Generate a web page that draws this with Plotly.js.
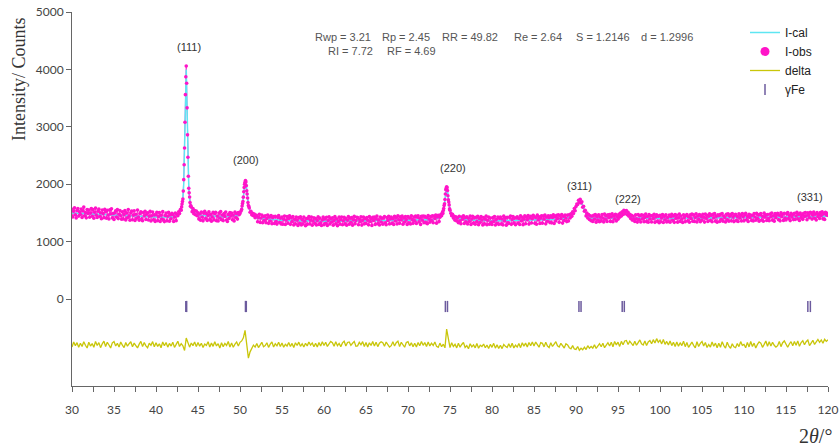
<!DOCTYPE html>
<html>
<head>
<meta charset="utf-8">
<script src="https://cdn.plot.ly/plotly-3.0.1.min.js"></script>
<style>html,body{margin:0;padding:0;background:#fff;}#chart{width:839px;height:447px;}</style>
</head>
<body>
<div id="chart"></div>
<script>
// 2theta scan grid (instrument settings)
const obsStart = 30, obsStep = 0.1;
const deltaStart = 30, deltaStep = 0.2;

// Observed intensity (I-obs), one row per degree (x.0 .. x.9)
const obsY = [
1562,1431,1528,1590,1467,1412,1541,1578,1445,1519,
1472,1568,1420,1537,1601,1451,1508,1414,1559,1488,
1548,1425,1497,1576,1443,1557,1408,1512,1583,1461,
1421,1529,1566,1440,1503,1399,1552,1487,1418,1561,
1524,1409,1545,1462,1395,1553,1481,1572,1413,1490,
1386,1501,1538,1427,1560,1401,1476,1543,1452,1389,
1519,1396,1470,1541,1378,1502,1417,1560,1448,1372,
1503,1531,1382,1461,1537,1370,1478,1405,1552,1430,
1372,1489,1521,1398,1363,1508,1447,1530,1385,1476,
1502,1376,1441,1527,1359,1452,1514,1381,1466,1352,
1468,1512,1365,1439,1506,1351,1461,1393,1522,1374,
1349,1456,1498,1362,1441,1509,1355,1470,1398,1492,
1473,1352,1431,1497,1365,1478,1452,1521,1488,1560,
1548,1655,1742,2080,2630,3560,4060,3330,2470,1930,
1778,1618,1601,1522,1576,1487,1540,1468,1532,1451,
1502,1396,1480,1373,1515,1428,1362,1493,1529,1401,
1488,1370,1455,1521,1384,1474,1356,1430,1509,1379,
1491,1512,1364,1447,1358,1497,1411,1523,1380,1462,
1366,1490,1438,1517,1377,1350,1471,1402,1508,1445,
1498,1381,1462,1361,1513,1420,1487,1392,1505,1470,
1492,1528,1561,1662,1775,1945,2035,2040,1885,1760,
1628,1585,1512,1530,1466,1495,1452,1480,1418,1463,
1450,1346,1419,1478,1335,1412,1462,1329,1437,1371,
1449,1330,1402,1463,1318,1431,1360,1455,1312,1418,
1437,1317,1440,1351,1305,1422,1456,1333,1410,1308,
1428,1303,1391,1445,1297,1375,1436,1319,1404,1450,
1301,1419,1350,1437,1291,1388,1312,1430,1372,1282,
1418,1315,1431,1289,1384,1306,1427,1355,1278,1401,
1297,1405,1437,1310,1372,1426,1286,1361,1415,1318,
1402,1289,1366,1431,1299,1410,1327,1280,1378,1428,
1295,1397,1321,1425,1283,1366,1432,1308,1404,1340,
1416,1286,1369,1436,1312,1399,1277,1352,1427,1303,
1380,1430,1294,1364,1422,1309,1401,1285,1373,1437,
1302,1410,1336,1421,1287,1379,1440,1313,1366,1425,
1419,1295,1390,1345,1432,1288,1371,1428,1310,1402,
1316,1418,1372,1292,1436,1350,1401,1283,1423,1367,
1430,1300,1395,1445,1313,1378,1290,1426,1342,1409,
1304,1411,1438,1327,1296,1420,1370,1442,1309,1396,
1426,1315,1400,1298,1440,1360,1421,1307,1449,1381,
1318,1431,1378,1446,1303,1414,1340,1437,1385,1299,
1437,1322,1412,1306,1449,1383,1318,1428,1361,1444,
1315,1427,1452,1344,1408,1300,1439,1372,1447,1329,
1442,1331,1420,1312,1455,1392,1338,1436,1368,1451,
1330,1447,1401,1461,1322,1430,1458,1349,1426,1470,
1452,1510,1540,1628,1735,1905,1955,1890,1730,1640,
1548,1496,1452,1478,1410,1440,1372,1431,1358,1417,
1330,1441,1362,1311,1430,1389,1452,1317,1418,1346,
1433,1306,1408,1351,1447,1299,1392,1440,1323,1418,
1303,1425,1348,1442,1296,1401,1332,1437,1377,1290,
1421,1309,1390,1446,1294,1372,1430,1302,1412,1341,
1297,1418,1350,1438,1289,1384,1317,1429,1301,1405,
1430,1305,1395,1292,1444,1360,1413,1287,1425,1326,
1318,1422,1447,1301,1386,1436,1323,1410,1295,1416,
1434,1320,1403,1299,1450,1362,1425,1296,1391,1448,
1312,1428,1379,1455,1305,1411,1441,1324,1398,1459,
1440,1318,1421,1302,1461,1378,1433,1315,1409,1452,
1322,1445,1390,1463,1310,1428,1356,1450,1417,1331,
1450,1327,1419,1466,1316,1437,1361,1458,1402,1469,
1336,1455,1401,1472,1323,1440,1367,1461,1412,1349,
1462,1358,1469,1412,1485,1440,1520,1488,1575,1538,
1612,1655,1646,1721,1688,1738,1672,1695,1598,1617,
1528,1547,1448,1496,1412,1470,1385,1452,1363,1441,
1352,1458,1392,1470,1339,1435,1376,1468,1347,1426,
1361,1470,1412,1344,1479,1389,1453,1350,1466,1418,
1471,1352,1430,1484,1345,1451,1396,1477,1358,1438,
1390,1475,1424,1497,1446,1521,1472,1545,1486,1530,
1540,1468,1512,1443,1478,1402,1460,1375,1441,1398,
1350,1466,1398,1340,1473,1385,1451,1342,1469,1396,
1460,1345,1420,1481,1349,1437,1338,1470,1392,1452,
1341,1455,1401,1476,1336,1428,1467,1352,1444,1330,
1458,1347,1413,1472,1332,1440,1380,1466,1343,1421,
1350,1462,1338,1433,1478,1371,1450,1336,1470,1405,
1459,1339,1417,1481,1352,1446,1395,1333,1468,1422,
1345,1454,1473,1364,1431,1337,1466,1402,1482,1356,
1468,1350,1419,1485,1341,1447,1388,1472,1345,1439,
1374,1476,1425,1340,1479,1405,1458,1352,1443,1486,
1367,1461,1346,1474,1412,1487,1355,1440,1338,1469,
1452,1351,1478,1391,1488,1357,1447,1420,1343,1475,
1380,1483,1356,1443,1470,1362,1491,1427,1349,1461,
1476,1365,1436,1350,1484,1410,1458,1358,1490,1432,
1362,1468,1492,1380,1437,1351,1475,1419,1463,1367,
1455,1358,1487,1428,1372,1492,1401,1466,1355,1470,
1489,1377,1441,1356,1496,1424,1462,1368,1471,1402,
1365,1480,1431,1499,1372,1452,1357,1488,1418,1466,
1492,1381,1459,1362,1501,1434,1477,1370,1495,1410,
1378,1483,1506,1402,1455,1366,1492,1427,1473,1384,
1495,1385,1447,1510,1399,1474,1369,1498,1420,1461,
1388,1493,1436,1507,1452,1380,1503,1461,1415,1512,
1494,1392,1459,1514,1406,1481,1377,1505,1438,1470,
1402,1508,1453,1519,1397,1488,1385,1510,1466,1493,
1455
];

// Extra observed points read on the steep peak flanks
const obsFineX = [43.05,43.15,43.25,43.35,43.45,43.55,43.65,43.75,43.85,43.95,44.05,44.15,
                  50.25,50.35,50.45,50.55,50.65,50.75,50.85,50.95,51.05,
                  74.15,74.25,74.35,74.45,74.55,74.65,74.75,74.85,74.95];
const obsFineY = [1605,1700,1880,2340,3080,3870,3760,2860,2140,1850,1680,1625,
                  1620,1700,1870,2000,2065,1975,1830,1680,1610,
                  1490,1575,1660,1830,1935,1940,1800,1690,1570];

// Calculated profile (I-cal)
const calX = [30,35,40,42,42.8,43,43.2,43.3,43.4,43.5,43.6,43.7,43.8,43.9,44,44.2,44.5,45,48,49.8,50,50.2,50.3,50.4,50.5,50.6,50.7,50.8,50.9,51,51.2,51.5,52,55,60,65,70,73,73.8,74,74.2,74.3,74.4,74.5,74.6,74.7,74.8,74.9,75,75.2,75.5,77,80,85,88,89.3,89.7,90,90.2,90.4,90.6,90.8,91,91.3,91.6,93,95,95.5,95.9,96.3,97,100,105,110,115,117.5,117.7,118,120];
const calY = [1500,1462,1430,1425,1500,1560,1740,2000,2600,3500,4000,3320,2450,1950,1740,1580,1510,1460,1435,1455,1480,1560,1640,1770,1930,2030,2040,1900,1750,1640,1530,1470,1405,1372,1355,1360,1372,1385,1420,1450,1520,1610,1740,1890,1955,1880,1740,1620,1540,1460,1420,1378,1365,1376,1388,1430,1500,1600,1660,1700,1690,1620,1530,1455,1415,1405,1412,1460,1500,1455,1410,1402,1408,1414,1425,1432,1445,1433,1440];

// Difference curve (delta), one row per degree (x.0, x.2, x.4, x.6, x.8)
const deltaY = [
-835,-748,-812,-760,-842,
-771,-828,-745,-806,-853,
-752,-819,-776,-840,-738,
-809,-760,-847,-781,-733,
-826,-755,-801,-852,-764,
-741,-818,-772,-837,-750,
-803,-846,-757,-821,-779,
-744,-832,-768,-810,-851,
-786,-737,-829,-759,-815,
-848,-770,-806,-742,-833,
-761,-825,-780,-849,-747,
-814,-756,-838,-773,-820,
-751,-842,-790,-735,-827,
-778,-815,-895,-680,-752,
-838,-766,-812,-748,-829,
-757,-821,-770,-845,-783,
-810,-745,-836,-768,-824,
-743,-817,-778,-852,-761,
-829,-772,-808,-740,-835,
-766,-840,-785,-748,-819,
-754,-730,-675,-545,-780,
-1030,-920,-870,-802,-838,
-775,-846,-793,-754,-831,
-812,-761,-842,-786,-748,
-837,-779,-815,-752,-826,
-765,-840,-788,-819,-757,
-828,-773,-845,-762,-809,
-751,-823,-779,-836,-770,
-816,-748,-802,-765,-831,
-772,-837,-759,-818,-745,
-809,-752,-826,-770,-738,
-760,-821,-745,-812,-773,
-829,-764,-736,-817,-756,
-747,-806,-771,-738,-822,
-815,-755,-798,-742,-828,
-758,-834,-763,-809,-740,
-820,-751,-829,-769,-744,
-762,-823,-749,-805,-836,
-812,-746,-818,-760,-733,
-829,-754,-801,-840,-757,
-743,-816,-762,-830,-771,
-835,-759,-812,-741,-806,
-758,-828,-750,-817,-769,
-810,-747,-825,-842,-768,
-831,-786,-850,-525,-720,
-845,-760,-826,-789,-851,
-770,-838,-792,-757,-844,
-812,-866,-779,-833,-798,
-850,-776,-858,-805,-829,
-783,-849,-801,-862,-790,
-841,-772,-855,-797,-860,
-806,-864,-791,-825,-846,
-779,-843,-770,-852,-803,
-838,-776,-847,-762,-820,
-768,-835,-757,-812,-750,
-820,-749,-806,-839,-758,
-772,-833,-752,-818,-845,
-760,-827,-785,-743,-814,
-836,-771,-825,-853,-778,
-801,-848,-866,-812,-870,
-878,-826,-892,-857,-884,
-839,-880,-812,-858,-826,
-854,-795,-861,-816,-778,
-832,-770,-848,-802,-761,
-819,-752,-830,-741,-798,
-752,-825,-738,-796,-730,
-722,-791,-735,-778,-810,
-736,-805,-759,-712,-781,
-800,-731,-809,-748,-722,
-779,-708,-765,-690,-752,
-716,-781,-705,-790,-738,
-802,-730,-811,-752,-828,
-749,-824,-760,-812,-735,
-830,-758,-842,-781,-749,
-807,-851,-744,-826,-772,
-741,-818,-756,-845,-792,
-836,-750,-823,-768,-849,
-770,-839,-743,-811,-855,
-752,-822,-858,-780,-831,
-847,-775,-829,-742,-806,
-790,-848,-755,-834,-741,
-826,-768,-852,-791,-747,
-768,-841,-789,-731,-822,
-744,-818,-752,-806,-839,
-812,-738,-829,-761,-730,
-775,-840,-783,-742,-815,
-738,-806,-729,-824,-759,
-726,-797,-744,-715,-812,
-768,-720,-790,-742,-705,
-754,-712,-771,-701,-738,
-710
];

// gamma-Fe reflection markers (Ka1 / Ka2)
const feX = [43.55,43.65,50.65,50.75,74.45,74.7,90.35,90.6,95.5,95.75,117.6,117.9];
const feY = [-130,-130,-130,-130,-130,-130,-130,-130,-130,-130,-130,-130];

// Peak labels
const hklText = ['(111)','(200)','(220)','(311)','(222)','(331)'];
const hklX = [43.9,50.7,75.3,90.45,96.2,117.85];
const hklY = [4395,2420,2276,1969,1737,1782];

// Refinement statistics
const statText = ['Rwp = 3.21','Rp = 2.45','RR = 49.82','Re = 2.64','S = 1.2146','d = 1.2996','RI = 7.72','RF = 4.69'];
const statPx = [313,380,440,512,574,639,326,385];
const statRow = [0,0,0,0,0,0,1,1];

const obsX = obsY.map((_, i) => +(obsStart + i * obsStep).toFixed(2));
const deltaX = deltaY.map((_, i) => +(deltaStart + i * deltaStep).toFixed(2));

const PL = 72, PW = 756, PB = 386, PH = 374;
const px2x = p => (p - PL) / PW;
const px2y = p => (PB - p) / PH;

const pink = '#ff14c8';
const traces = [
  {x: obsX, y: obsY, mode: 'lines', name: 'obs-band', showlegend: false, hoverinfo: 'skip',
   line: {color: pink, width: 0.8}},
  {x: calX, y: calY, mode: 'lines', name: 'I-cal', line: {color: '#5ee6f2', width: 1.5}},
  {x: obsX.concat(obsFineX), y: obsY.concat(obsFineY), mode: 'markers', name: 'I-obs', showlegend: false,
   marker: {color: pink, size: 3.6}},
  {x: [null], y: [null], mode: 'markers', name: 'I-obs', marker: {color: pink, size: 9}},
  {x: deltaX, y: deltaY, mode: 'lines', name: 'delta', line: {color: '#c9c60a', width: 1.3}},
  {x: feX, y: feY, mode: 'markers', name: 'γFe',
   marker: {symbol: 'line-ns', size: 8, line: {width: 1.5, color: '#6c5b9e'}, color: '#6c5b9e'}}
];

const ann = [];
hklText.forEach((t, i) => ann.push({x: hklX[i], y: hklY[i], xref: 'x', yref: 'y', text: t,
  showarrow: false, xanchor: 'center', yanchor: 'middle',
  font: {family: 'Liberation Sans, Arial', size: 11, color: '#333'}}));
statText.forEach((t, i) => ann.push({x: px2x(statPx[i]), y: px2y(statRow[i] ? 51 : 37),
  xref: 'paper', yref: 'paper', text: t, showarrow: false, xanchor: 'left', yanchor: 'middle',
  font: {family: 'Liberation Sans, Arial', size: 11, color: '#555'}}));
ann.push({x: px2x(19), y: px2y(79), xref: 'paper', yref: 'paper', text: 'Intensity/ Counts',
  textangle: -90, showarrow: false, xanchor: 'center', yanchor: 'middle',
  font: {family: 'Liberation Serif, Times New Roman, serif', size: 18, color: '#333'}});
ann.push({x: px2x(815), y: px2y(436), xref: 'paper', yref: 'paper', text: '2<i>θ</i>/°',
  showarrow: false, xanchor: 'center', yanchor: 'middle',
  font: {family: 'Liberation Serif, Times New Roman, serif', size: 20, color: '#333'}});

const layout = {
  width: 839, height: 447,
  margin: {l: 72, r: 11, t: 12, b: 61},
  paper_bgcolor: '#fff', plot_bgcolor: '#fff',
  showlegend: true,
  legend: {x: px2x(745), y: px2y(18), xanchor: 'left', yanchor: 'top', bgcolor: 'rgba(0,0,0,0)',
    font: {family: 'Liberation Sans, Arial', size: 12, color: '#222'}, tracegroupgap: 0},
  xaxis: {range: [30, 120], tick0: 30, dtick: 5, ticks: 'outside', ticklen: 5, tickcolor: '#666',
    showline: true, linecolor: '#666', linewidth: 1, showgrid: false, zeroline: false,
    minor: {dtick: 2.5, ticks: 'outside', ticklen: 5, tickcolor: '#666'},
    ticklabelstandoff: 8,
    tickfont: {family: 'Lato, Open Sans, sans-serif', size: 12, color: '#444'}},
  yaxis: {range: [-1515, 5000], tickvals: [0, 1000, 2000, 3000, 4000, 5000], ticks: 'outside', ticklen: 5,
    tickcolor: '#666', showline: true, linecolor: '#666', linewidth: 1, showgrid: false, zeroline: false,
    tickfont: {family: 'Lato, Open Sans, sans-serif', size: 12, color: '#444'}},
  annotations: ann
};

Plotly.newPlot('chart', traces, layout, {displayModeBar: false, staticPlot: true});
</script>
</body>
</html>
